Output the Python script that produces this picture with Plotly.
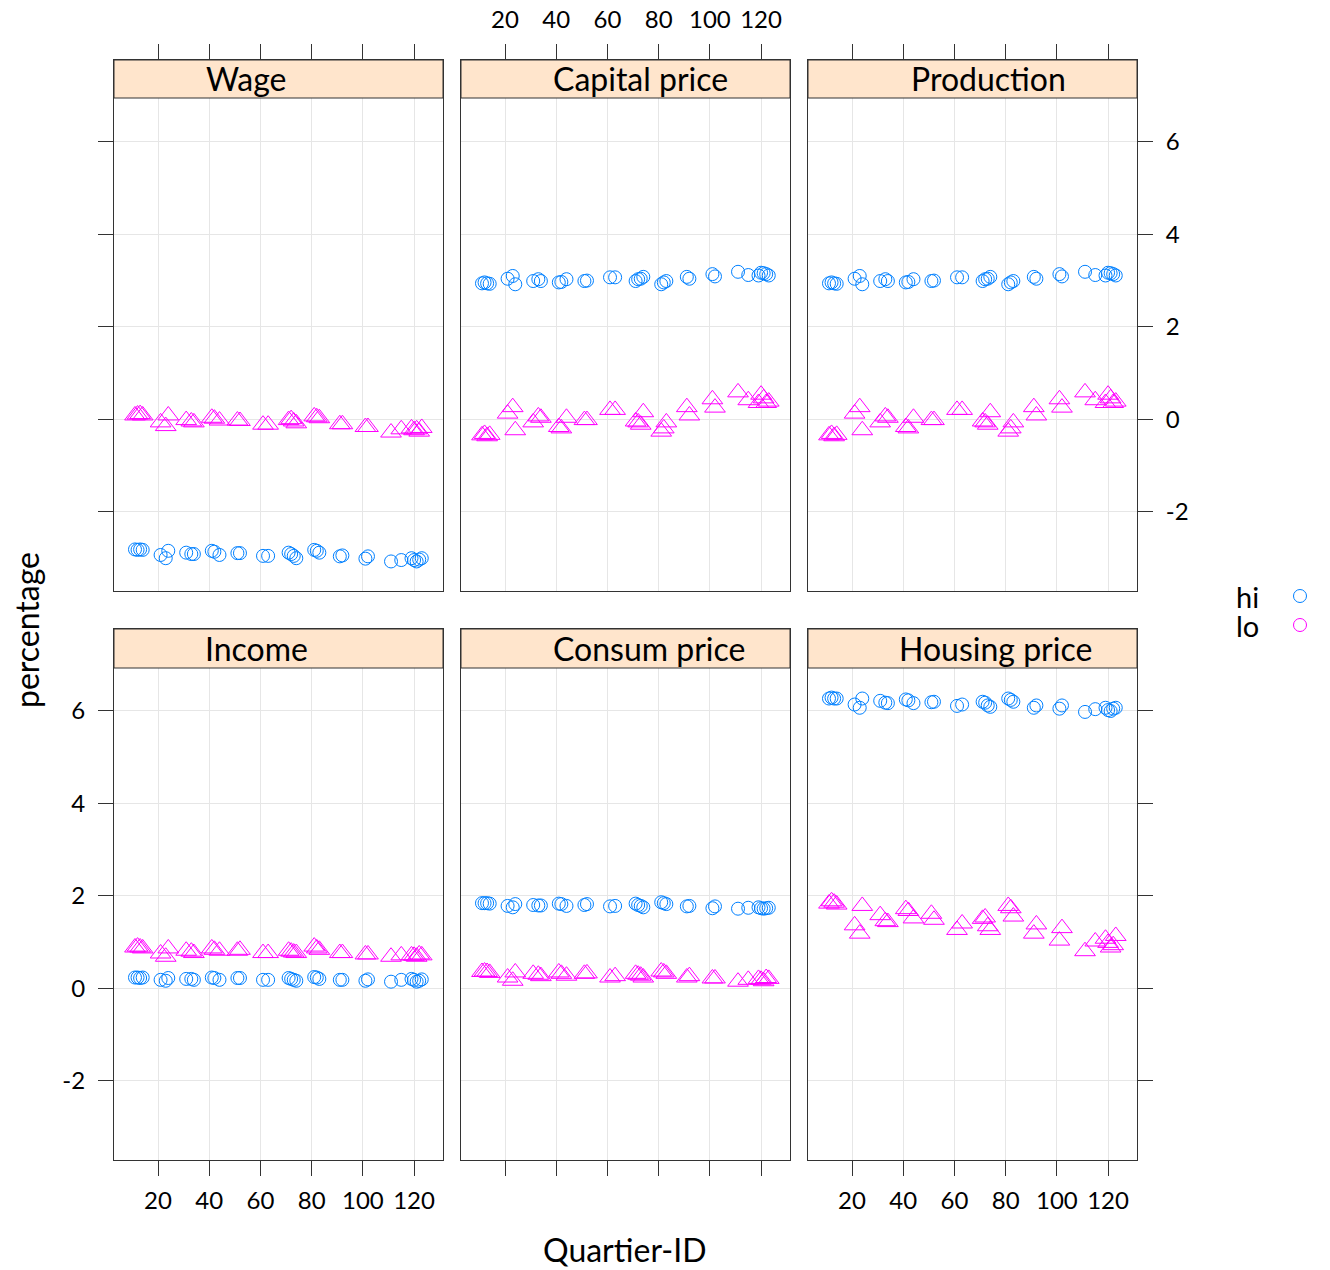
import plotly.graph_objects as go

# ---------------- data ----------------
quarter_id = [11, 12, 13, 14, 21, 23, 24, 31, 33, 34, 41, 42, 44, 51, 52, 61, 63,
              71, 72, 73, 74, 81, 82, 83, 91, 92, 101, 102, 111, 115, 119, 120, 121, 122, 123]

panels = ["Wage", "Capital price", "Production", "Income", "Consum price", "Housing price"]

wage_hi = [-2.82, -2.83, -2.82, -2.83, -2.94, -3.01, -2.85, -2.89, -2.92, -2.92, -2.85, -2.87, -2.94,
           -2.90, -2.90, -2.96, -2.96, -2.89, -2.92, -2.96, -3.01, -2.83, -2.85, -2.89, -2.97, -2.95,
           -3.02, -2.97, -3.08, -3.05, -3.01, -3.05, -3.08, -3.04, -3.01]
wage_lo = [0.08, 0.10, 0.11, 0.08, -0.07, -0.15, 0.08, -0.02, -0.05, -0.07, 0.03, 0.01, -0.03,
           -0.03, -0.04, -0.12, -0.12, -0.02, 0.00, -0.05, -0.09, 0.06, 0.04, 0.02, -0.11, -0.11,
           -0.17, -0.17, -0.29, -0.22, -0.20, -0.24, -0.22, -0.27, -0.19]

capital_hi = [2.94, 2.96, 2.94, 2.93, 3.04, 3.10, 2.92, 2.99, 3.03, 2.99, 2.96, 2.97, 3.03,
              2.99, 3.00, 3.07, 3.07, 2.99, 3.03, 3.04, 3.08, 2.92, 2.96, 2.99, 3.08, 3.04,
              3.14, 3.09, 3.19, 3.12, 3.11, 3.17, 3.16, 3.14, 3.11]
capital_lo = [-0.35, -0.32, -0.37, -0.34, 0.12, 0.26, -0.24, -0.07, 0.06, 0.03, -0.17, -0.20, 0.03,
              -0.02, -0.02, 0.20, 0.20, -0.05, -0.07, -0.12, 0.15, -0.27, -0.20, -0.07, 0.26, 0.08,
              0.43, 0.25, 0.58, 0.41, 0.35, 0.53, 0.45, 0.35, 0.38]

production_hi = [2.94, 2.96, 2.94, 2.93, 3.04, 3.10, 2.92, 2.99, 3.03, 2.99, 2.96, 2.97, 3.03,
                 2.99, 3.00, 3.07, 3.07, 2.99, 3.03, 3.04, 3.08, 2.92, 2.96, 2.99, 3.08, 3.04,
                 3.14, 3.09, 3.19, 3.12, 3.11, 3.17, 3.16, 3.14, 3.11]
production_lo = [-0.35, -0.32, -0.37, -0.34, 0.12, 0.26, -0.24, -0.07, 0.06, 0.03, -0.17, -0.20, 0.03,
                 -0.02, -0.02, 0.20, 0.20, -0.05, -0.07, -0.12, 0.15, -0.27, -0.20, -0.07, 0.26, 0.08,
                 0.43, 0.25, 0.58, 0.41, 0.35, 0.53, 0.45, 0.35, 0.38]

income_hi = [0.23, 0.23, 0.22, 0.23, 0.18, 0.16, 0.22, 0.20, 0.20, 0.18, 0.23, 0.22, 0.18,
             0.22, 0.22, 0.18, 0.18, 0.22, 0.20, 0.18, 0.16, 0.24, 0.23, 0.20, 0.18, 0.18,
             0.16, 0.19, 0.14, 0.18, 0.20, 0.18, 0.14, 0.16, 0.19]
income_lo = [0.88, 0.90, 0.88, 0.86, 0.75, 0.68, 0.86, 0.81, 0.79, 0.76, 0.86, 0.83, 0.81,
             0.81, 0.83, 0.76, 0.76, 0.81, 0.79, 0.77, 0.76, 0.90, 0.86, 0.83, 0.76, 0.76,
             0.73, 0.73, 0.68, 0.71, 0.71, 0.70, 0.68, 0.73, 0.71]

consum_hi = [1.84, 1.84, 1.84, 1.83, 1.78, 1.75, 1.82, 1.80, 1.79, 1.79, 1.83, 1.82, 1.78,
             1.80, 1.82, 1.77, 1.78, 1.83, 1.80, 1.78, 1.75, 1.86, 1.84, 1.82, 1.77, 1.78,
             1.73, 1.77, 1.72, 1.74, 1.75, 1.73, 1.72, 1.73, 1.74]
consum_lo = [0.35, 0.36, 0.35, 0.33, 0.23, 0.16, 0.34, 0.31, 0.29, 0.26, 0.34, 0.31, 0.27,
             0.31, 0.32, 0.23, 0.26, 0.31, 0.29, 0.27, 0.23, 0.36, 0.34, 0.31, 0.23, 0.26,
             0.21, 0.21, 0.14, 0.18, 0.20, 0.18, 0.15, 0.22, 0.20]

housing_hi = [6.27, 6.29, 6.27, 6.27, 6.14, 6.07, 6.27, 6.22, 6.18, 6.17, 6.25, 6.23, 6.17,
              6.19, 6.20, 6.11, 6.14, 6.20, 6.18, 6.12, 6.09, 6.27, 6.24, 6.20, 6.07, 6.12,
              6.05, 6.12, 5.98, 6.04, 6.07, 6.02, 6.00, 6.05, 6.07]
housing_lo = [1.83, 1.88, 1.85, 1.81, 1.36, 1.18, 1.78, 1.58, 1.45, 1.43, 1.71, 1.67, 1.51,
              1.61, 1.48, 1.26, 1.40, 1.50, 1.53, 1.34, 1.26, 1.78, 1.73, 1.55, 1.18, 1.38,
              1.03, 1.30, 0.80, 1.01, 1.07, 0.98, 0.88, 0.93, 1.13]

series_hi = [wage_hi, capital_hi, production_hi, income_hi, consum_hi, housing_hi]
series_lo = [wage_lo, capital_lo, production_lo, income_lo, consum_lo, housing_lo]

x_ticks = [20, 40, 60, 80, 100, 120]
y_ticks = [-2, 0, 2, 4, 6]
legend_labels = ["hi", "lo"]

# ---------------- styling ----------------
W, H = 1330, 1270
FONT = "Lato"
COL_HI = "#0080ff"
COL_LO = "#ff00ff"
STRIP_BG = "#ffe5cc"
LINE = "#333333"
GRID = "#e6e6e6"
TITLE_SIZE = 32

cols_px = [(114, 443), (461, 790), (808, 1137)]
rows_px = [(60, 98, 591), (629, 668, 1160)]  # strip top, panel top, panel bottom
strip_centers = [246, 640, 988, 256, 649, 995]

X_RANGE = [2.8, 131.3]
Y_RANGE = [-3.72, 7.775]

def px(x):
    return x / W

def py(y):
    return 1 - y / H

fig = go.Figure()
layout = dict(
    width=W, height=H,
    margin=dict(l=0, r=0, t=0, b=0),
    paper_bgcolor="white", plot_bgcolor="white",
    showlegend=False,
    font=dict(family=FONT, color="black"),
    shapes=[], annotations=[],
)

for i, name in enumerate(panels):
    r, c = divmod(i, 3)
    k = i + 1
    xa = f"x{k}" if k > 1 else "x"
    ya = f"y{k}" if k > 1 else "y"
    x0, x1 = cols_px[c]
    s_top, p_top, p_bot = rows_px[r]

    fig.add_trace(go.Scatter(
        x=quarter_id, y=series_hi[i], mode="markers", xaxis=xa, yaxis=ya,
        marker=dict(symbol="circle-open", size=13, color=COL_HI, line=dict(width=1, color=COL_HI)),
        name="hi"))
    fig.add_trace(go.Scatter(
        x=quarter_id, y=series_lo[i], mode="markers", xaxis=xa, yaxis=ya,
        marker=dict(symbol="triangle-up-open", size=18, color=COL_LO, line=dict(width=1, color=COL_LO)),
        name="lo"))

    if r == 0:
        x_side, x_labels, x_standoff = "top", (c == 1), 6
    else:
        x_side, x_labels, x_standoff = "bottom", (c != 1), 4
    xaxis = dict(
        domain=[px(x0), px(x1)], range=X_RANGE, anchor=ya, side=x_side,
        tickvals=x_ticks, ticktext=[str(v) for v in x_ticks],
        showticklabels=x_labels, ticks="outside", ticklen=15, tickwidth=1, tickcolor=LINE,
        ticklabelstandoff=x_standoff,
        tickfont=dict(size=24, family=FONT, color="black"),
        showgrid=True, gridcolor=GRID, gridwidth=1, zeroline=False,
        showline=True, mirror=True, linecolor=LINE, linewidth=1,
    )
    if c == 0:
        y_side, y_ticks_on, y_labels = "left", True, (r == 1)
    elif c == 2:
        y_side, y_ticks_on, y_labels = "right", True, (r == 0)
    else:
        y_side, y_ticks_on, y_labels = "left", False, False
    yaxis = dict(
        domain=[py(p_bot), py(s_top)], range=Y_RANGE, anchor=xa, side=y_side,
        tickvals=y_ticks, ticktext=[str(v) for v in y_ticks],
        showticklabels=y_labels, ticks="outside" if y_ticks_on else "",
        ticklen=15, tickwidth=1, tickcolor=LINE, ticklabelstandoff=8,
        tickfont=dict(size=24, family=FONT, color="black"),
        showgrid=True, gridcolor=GRID, gridwidth=1, zeroline=False,
        showline=True, mirror=True, linecolor=LINE, linewidth=1,
    )
    layout["xaxis" if k == 1 else f"xaxis{k}"] = xaxis
    layout["yaxis" if k == 1 else f"yaxis{k}"] = yaxis

    layout["shapes"].append(dict(
        type="rect", xref="paper", yref="paper", layer="above",
        x0=px(x0), x1=px(x1), y0=py(p_top), y1=py(s_top),
        fillcolor=STRIP_BG, line=dict(color=LINE, width=1)))
    layout["annotations"].append(dict(
        text=name, xref="paper", yref="paper", showarrow=False,
        x=px(strip_centers[i]), y=py((s_top + p_top) / 2), xanchor="center", yanchor="middle",
        font=dict(size=TITLE_SIZE, family=FONT, color="black")))

# axis titles
layout["annotations"].append(dict(
    text="Quartier-ID", xref="paper", yref="paper", showarrow=False,
    x=px(625), y=py(1249), xanchor="center", yanchor="middle",
    font=dict(size=TITLE_SIZE, family=FONT, color="black")))
layout["annotations"].append(dict(
    text="percentage", xref="paper", yref="paper", showarrow=False, textangle=-90,
    x=px(26), y=py(630), xanchor="center", yanchor="middle",
    font=dict(size=TITLE_SIZE, family=FONT, color="black")))

# legend (manual, lattice style: text then symbol)
leg_y = [596, 625]
leg_cols = [COL_HI, COL_LO]
for lab, yy, colr in zip(legend_labels, leg_y, leg_cols):
    layout["annotations"].append(dict(
        text=lab, xref="paper", yref="paper", showarrow=False,
        x=px(1261), y=py(yy), xanchor="right", yanchor="middle",
        font=dict(size=29, family=FONT, color="black")))
    layout["shapes"].append(dict(
        type="circle", xref="paper", yref="paper", layer="above",
        x0=px(1300 - 6.5), x1=px(1300 + 6.5), y0=py(yy + 6.5), y1=py(yy - 6.5),
        line=dict(color=colr, width=1)))

fig.update_layout(**layout)
fig.write_html(
    "out.html",
    config={"displayModeBar": False, "staticPlot": True},
    post_script="document.body.style.margin='0';document.body.style.overflow='hidden';",
)
